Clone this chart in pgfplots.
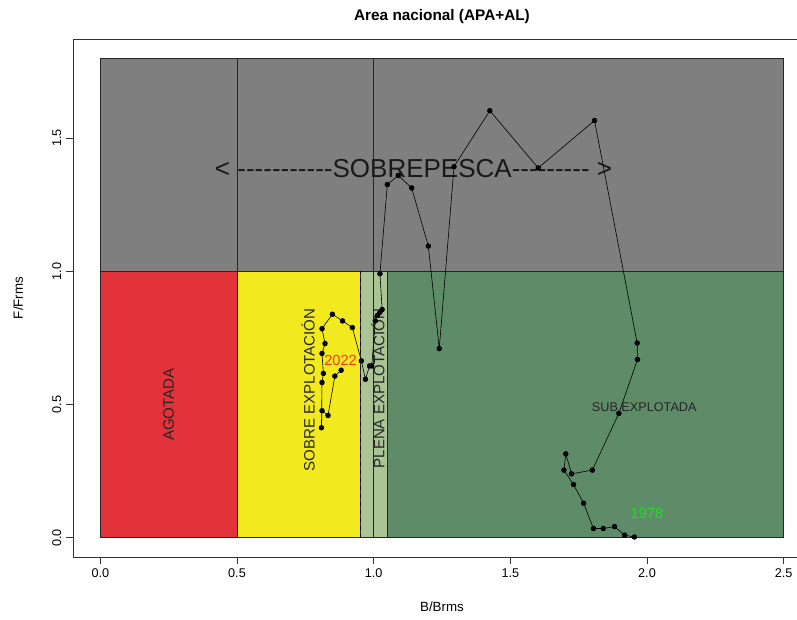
\documentclass[border=0pt]{standalone}
\usepackage{fontspec}
\setmainfont{Liberation Sans}
\usepackage{pgfplots}
\pgfplotsset{compat=1.18}

\definecolor{gris}{RGB}{127,127,127}
\definecolor{rojo}{RGB}{226,50,58}
\definecolor{amarillo}{RGB}{242,234,30}
\definecolor{verdeclaro}{RGB}{170,196,150}
\definecolor{verde}{RGB}{94,139,104}
\definecolor{rojoano}{RGB}{240,60,30}
\definecolor{verdeano}{RGB}{40,220,40}

% hyphen that does not turn into an en/em dash
\newcommand{\hy}{-\kern0pt}

\begin{document}
\begin{tikzpicture}[font=\fontsize{9.5}{11}\selectfont]
\useasboundingbox (-54.75pt,-47.25pt) rectangle (543pt,417.75pt);
\begin{axis}[
    at={(0,0)}, anchor=south west,
    scale only axis, width=553.5pt, height=388.5pt,
    xmin=-0.1, xmax=2.6, ymin=-0.072, ymax=1.872,
    xtick={0,0.5,1,1.5,2,2.5}, ytick={0,0.5,1,1.5},
    tick pos=left, tick align=outside, major tick length=5.25pt,
    tick style={black!80, line width=0.6pt},
    axis line style={black!80, line width=0.6pt},
    xticklabel style={/pgf/number format/fixed, /pgf/number format/fixed zerofill, /pgf/number format/precision=1},
    yticklabel style={/pgf/number format/fixed, /pgf/number format/fixed zerofill, /pgf/number format/precision=1, rotate=90, anchor=south},
    /pgf/number format/assume math mode=true,
]
% zonas
\addplot[fill=gris, draw=black!85, line width=0.5pt] coordinates {(0,1) (2.5,1) (2.5,1.8) (0,1.8)} -- cycle;
\addplot[fill=rojo, draw=black!85, line width=0.5pt] coordinates {(0,0) (0.5,0) (0.5,1) (0,1)} -- cycle;
\addplot[fill=amarillo, draw=black!85, line width=0.5pt] coordinates {(0.5,0) (0.95,0) (0.95,1) (0.5,1)} -- cycle;
\addplot[fill=verdeclaro, draw=black!85, line width=0.5pt] coordinates {(0.95,0) (1.05,0) (1.05,1) (0.95,1)} -- cycle;
\addplot[fill=verde, draw=black!85, line width=0.5pt] coordinates {(1.05,0) (2.5,0) (2.5,1) (1.05,1)} -- cycle;
\addplot[black!85, line width=0.5pt] coordinates {(0.5,0) (0.5,1.8)};
\addplot[black!85, line width=0.5pt] coordinates {(1,0) (1,1.8)};
\addplot[black, line width=0.6pt, dashed] coordinates {(0.95,0) (0.95,1)};

\node[rotate=90, font=\fontsize{11.3}{12}\selectfont, text=black!85] at (axis cs:0.25,0.5) {AGOTADA};
\node[rotate=90, font=\fontsize{11.3}{12}\selectfont, text=black!85] at (axis cs:0.76,0.555) {SOBRE EXPLOTACIÓN};
\node[rotate=90, font=\fontsize{11.3}{12}\selectfont, text=black!85] at (axis cs:1.016,0.56) {PLENA EXPLOTACIÓN};
\node[font=\fontsize{9.5}{11}\selectfont, text=black!85] at (axis cs:1.99,0.49) {SUB EXPLOTADA};
\node[font=\fontsize{19.5}{21}\selectfont, text=black!90] at (axis cs:1.146,1.3875)
    {< \hy\hy\hy\hy\hy\hy\hy\hy\hy\hy\hy SOBREPESCA\hy\hy\hy\hy\hy\hy\hy\hy\hy\ >};

% trayectoria 1978-2022
\addplot[black, line width=0.45pt, mark=*, mark size=1.8pt] coordinates {
    (1.954,0.003) (1.918,0.010) (1.881,0.042) (1.840,0.035) (1.804,0.035)
    (1.768,0.130) (1.731,0.200) (1.696,0.254) (1.703,0.315) (1.724,0.240)
    (1.800,0.254) (1.897,0.467) (1.965,0.669) (1.964,0.731) (1.808,1.566)
    (1.602,1.388) (1.425,1.603) (1.294,1.393) (1.240,0.710) (1.200,1.095)
    (1.139,1.313) (1.090,1.360) (1.050,1.326) (1.023,0.991) (1.031,0.857)
    (1.023,0.846) (1.014,0.835) (1.006,0.814) (0.993,0.645) (0.985,0.645)
    (0.970,0.595) (0.955,0.664) (0.922,0.789) (0.886,0.814) (0.849,0.839)
    (0.811,0.785) (0.822,0.729) (0.811,0.692) (0.816,0.617) (0.811,0.583)
    (0.809,0.413) (0.811,0.477) (0.833,0.459) (0.858,0.607) (0.881,0.629)
};
\node[font=\fontsize{11}{12}\selectfont, text=rojoano] at (axis cs:0.879,0.665) {2022};
\node[font=\fontsize{11}{12}\selectfont, text=verdeano] at (axis cs:2.0,0.093) {1978};
\end{axis}
\node[font=\bfseries\fontsize{11.5}{13}\selectfont] at (276.75pt,405pt) {Area nacional (APA+AL)};
\node[font=\fontsize{10}{12}\selectfont] at (276.75pt,-37.5pt) {B/Brms};
\node[rotate=90, font=\fontsize{10}{12}\selectfont] at (-41.25pt,194.25pt) {F/Frms};
\end{tikzpicture}
\end{document}
